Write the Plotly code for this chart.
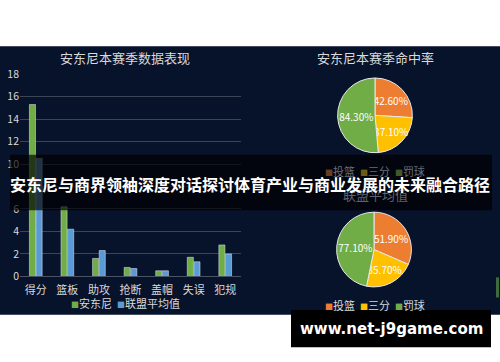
import plotly.graph_objects as go

# ---- data ----
categories = ["得分", "篮板", "助攻", "抢断", "盖帽", "失误", "犯规"]
anthony = [15.3, 6.2, 1.6, 0.8, 0.5, 1.7, 2.8]
league_avg = [10.5, 4.2, 2.3, 0.7, 0.5, 1.3, 2.0]
y_ticks = [0, 2, 4, 6, 8, 10, 12, 14, 16, 18]

shot_labels = ["投篮", "三分", "罚球"]
anthony_pct = [42.6, 37.1, 84.3]
league_pct = [51.9, 35.7, 77.1]

bar_title = "安东尼本赛季数据表现"
pie1_title = "安东尼本赛季命中率"
pie2_title = "联盟平均值"
banner = "安东尼与商界领袖深度对话探讨体育产业与商业发展的未来融合路径"
watermark = "www.net-j9game.com"

# ---- style ----
W, H = 500, 362
GREEN, BLUE = "#70ad47", "#5b9bd5"
ORANGE, YELLOW = "#ed7d31", "#ffc000"
NAVY = "#07122b"
CJK = "Noto Sans CJK SC, Noto Sans, sans-serif"
LIGHT = "#d9d9d9"


def px(x):
    return x / W


def py(y):
    return 1 - y / H


fig = go.Figure()
fig.add_trace(go.Bar(x=categories, y=anthony, name="安东尼", marker_color=GREEN,
                     showlegend=False))
fig.add_trace(go.Bar(x=categories, y=league_avg, name="联盟平均值", marker_color=BLUE,
                     showlegend=False))

pie_common = dict(labels=shot_labels, sort=False, direction="clockwise", rotation=0,
                  marker=dict(colors=[ORANGE, YELLOW, GREEN],
                              line=dict(color="#e8e8e8", width=1)),
                  texttemplate="%{value:.2f}%", textposition="inside",
                  insidetextorientation="horizontal",
                  textfont=dict(color="white", size=10, family=CJK),
                  showlegend=False, hoverinfo="skip")
fig.add_trace(go.Pie(values=anthony_pct,
                     domain=dict(x=[px(336), px(414)], y=[py(151), py(73)]), **pie_common))
fig.add_trace(go.Pie(values=league_pct,
                     domain=dict(x=[px(335), px(413)], y=[py(291), py(213)]), **pie_common))

shapes = [
    # dark panel
    dict(type="rect", xref="paper", yref="paper", x0=0, x1=1, y0=py(320), y1=py(40),
         fillcolor=NAVY, line_width=0, layer="below"),
    # banner overlay
    dict(type="rect", xref="paper", yref="paper", x0=px(10), x1=px(492), y0=py(211), y1=py(153),
         fillcolor="rgba(0,0,0,0.68)", line_width=0, layer="above"),
    # watermark box
    dict(type="rect", xref="paper", yref="paper", x0=px(291), x1=px(491), y0=py(354), y1=py(315),
         fillcolor="black", line_width=0, layer="above"),
    # small scrollbar artifact at right edge
    dict(type="rect", xref="paper", yref="paper", x0=px(496), x1=px(499), y0=py(302), y1=py(281),
         fillcolor="#3d6b3d", line_width=0, layer="above"),
]


def ann(text, x, y, size, color, family=CJK, xanchor="center"):
    return dict(text=text, x=px(x), y=py(y), xref="paper", yref="paper",
                xanchor=xanchor, yanchor="middle", showarrow=False,
                font=dict(size=size, color=color, family=family))


def sq(color):
    return f"<span style='color:{color};font-size:8px'>■</span>"


annotations = [
    ann(bar_title, 125, 52, 13, LIGHT),
    ann(pie1_title, 375, 52, 13, LIGHT),
    ann(f"{sq(GREEN)}安东尼  {sq(BLUE)}联盟平均值", 125, 308, 11, LIGHT),
    ann(f"{sq('#6a3d22')}投篮  {sq('#6e5a12')}三分  {sq('#3d5a2a')}罚球",
        375, 170, 11, "#6a6e78"),
    ann(pie2_title, 375, 195, 13, "#5e6270"),
    ann(f"{sq(ORANGE)}投篮  {sq(YELLOW)}三分  {sq(GREEN)}罚球", 375, 310, 11, LIGHT),
    ann(f"<b>{banner}</b>", 250, 184, 16, "white"),
    ann(f"<b>{watermark}</b>", 391, 335, 15, "white", family="DejaVu Sans, Verdana, sans-serif"),
]

fig.update_layout(
    width=W, height=H,
    margin=dict(l=0, r=0, t=0, b=0),
    paper_bgcolor="white",
    plot_bgcolor="rgba(0,0,0,0)",
    barmode="group", bargap=0.58, bargroupgap=0.08,
    uniformtext=dict(minsize=10, mode="show"),
    xaxis=dict(domain=[px(20), px(241)], showgrid=False, showline=True,
               linecolor="#4a5366", linewidth=1, ticks="", ticklabelstandoff=3,
               tickfont=dict(size=11, color=LIGHT, family=CJK), fixedrange=True),
    yaxis=dict(domain=[py(280), py(69)], range=[0, 18], tickvals=y_ticks,
               showgrid=True, gridcolor="#3c4558", gridwidth=1, zeroline=False,
               ticks="", tickfont=dict(size=10.5, color=LIGHT, family=CJK),
               fixedrange=True),
    shapes=shapes,
    annotations=annotations,
    showlegend=False,
)

fig.write_html("out.html", post_script="document.body.style.margin='0';",
               config={"displayModeBar": False})
